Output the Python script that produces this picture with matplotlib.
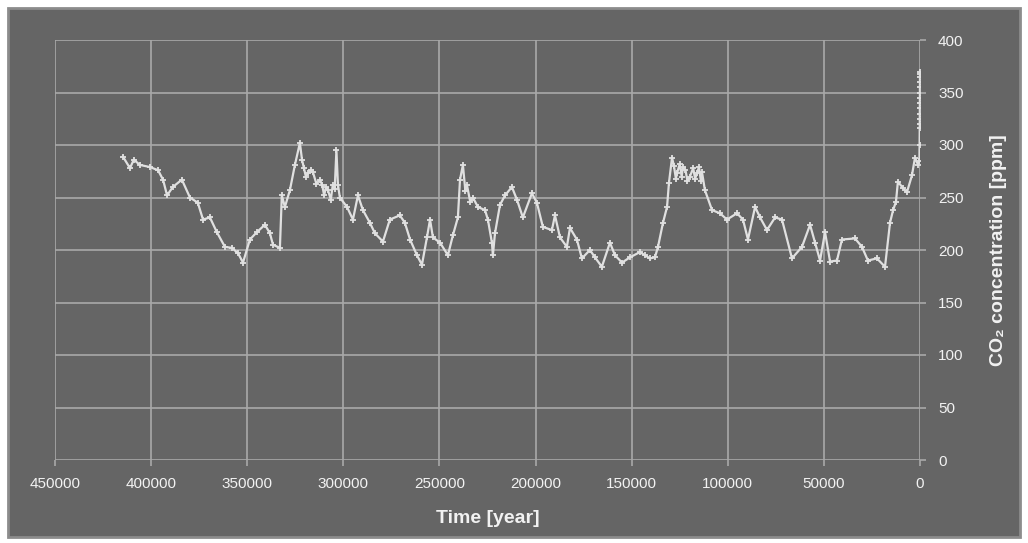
import numpy as np
from matplotlib import pyplot as plt
from matplotlib.patches import Rectangle

plt.rcParams['font.family'] = ['Liberation Sans', 'DejaVu Sans']

# Vostok ice core CO2 (years before present, ppm)
years = [414700, 411000, 409000, 405800, 400600, 396400, 393800, 391700, 388700, 384000,
         379800, 375700, 373000, 369400, 365800, 361600, 358000, 354800, 352200, 348600,
         345000, 340800, 338200, 336600, 333000, 332000, 330400, 327800, 325200, 322600,
         321500, 320500, 319500, 318400, 317000, 315800, 314000, 312200, 311000, 310000,
         309000, 308000, 306500, 305500, 304500, 303600, 302800, 301800, 298100,
         295000, 292400, 289800, 286200, 283600, 279400, 275800, 270600, 268000, 265300,
         261700, 259100, 256500, 254900, 253400, 249700, 245600, 243000, 240400, 239300,
         237800, 236500, 235700, 234000, 232600, 230000, 226300, 224800, 222700, 222200,
         221100, 218500,
         215900, 212300, 209700, 206600, 201900, 199300, 196200, 191500, 189900, 187300,
         183700, 182100, 178500, 175900, 171700, 169100, 165500, 161300, 158700, 155000,
         150900, 145700, 143100, 140500, 137900, 136300, 133700, 131600, 130600, 129000,
         128000, 127000, 126400, 125000, 124000, 123300, 122000, 121000, 119700, 118000,
         117000, 116000, 115000, 114000, 113400, 111900, 108200, 104100, 100400, 95200,
         92100, 89500, 85800, 83200, 79600, 75400, 71800, 66600, 61400, 57200,
         54600, 52000, 49400, 46800, 43200, 40600, 33800, 30200, 27100, 22400,
         18200, 15600, 14000, 12500, 11500, 8800, 6800, 4200, 2600, 1000,
         300, 200, 150, 120, 100, 90, 80, 70, 60, 50, 40, 30, 20, 10, 0]
co2 = [289, 278, 286, 281, 279, 276, 267, 252, 260, 267,
       250, 245, 229, 231, 217, 203, 202, 197, 188, 210,
       217, 224, 216, 205, 202, 252, 241, 257, 281, 302,
       286, 278, 270, 273, 276, 274, 263, 267, 262, 252,
       260, 257, 248, 262, 258, 295, 262, 250, 241,
       229, 252, 238, 226, 216, 208, 229, 233, 226, 210,
       195, 186, 212, 229, 212, 207, 195, 214, 231, 267,
       281, 256, 262, 246, 250, 241, 238, 229, 207, 195,
       216, 243,
       252, 260, 248, 231, 254, 245, 222, 219, 233, 212,
       203, 221, 210, 192, 200, 193, 184, 207, 195, 188,
       193, 198, 195, 192, 193, 203, 226, 241, 264, 288,
       280, 268, 273, 282, 270, 279, 276, 266, 270, 278,
       268, 273, 279, 266, 274, 257, 238, 235, 229, 235,
       229, 210, 241, 231, 219, 231, 229, 192, 203, 224,
       207, 190, 217, 189, 190, 210, 211, 203, 190, 192,
       184, 226, 238, 246, 265, 259, 255, 271, 288, 281,
       285, 300, 316, 320, 325, 330, 335, 340, 345, 350, 355, 360, 365, 368, 370]

x_ticks = np.arange(0, 450001, 50000)
y_ticks = np.arange(0, 401, 50)

bg = '#656565'
grid_col = '#a9a9a9'
txt = '#f2f2f2'

fig = plt.figure(figsize=(10.28, 5.43), dpi=100, facecolor='white')
fig.patches.append(Rectangle((8 / 1028, 6 / 543), 1012 / 1028, 529 / 543,
                             transform=fig.transFigure, facecolor=bg,
                             edgecolor='#8c8c8c', lw=2, zorder=-5))

ax = fig.add_axes([55 / 1028, 83 / 543, 865 / 1028, 420 / 543])
ax.set_facecolor(bg)
ax.plot(years, co2, color='#e0e0e0', lw=1.6, marker='+', ms=5, mew=1.3, zorder=3)

ax.set_xlim(450000, 0)
ax.set_ylim(0, 400)
ax.set_xticks(x_ticks)
ax.set_yticks(y_ticks)
ax.grid(True, color=grid_col, lw=1.2)
for s in ax.spines.values():
    s.set_visible(False)

ax.yaxis.tick_right()
ax.yaxis.set_label_position('right')
ax.tick_params(colors=grid_col, labelcolor=txt, labelsize=11, length=4, width=1.2)
ax.tick_params(axis='x', pad=8)
ax.tick_params(axis='y', pad=9)

ax.set_xlabel('Time [year]', color=txt, fontsize=14, fontweight='bold')
ax.xaxis.set_label_coords(0.5, -0.118)
ax.set_ylabel('CO₂ concentration [ppm]', color=txt, fontsize=14, fontweight='bold')
ax.yaxis.set_label_coords(1.081, 0.5)

fig.savefig('out.png', dpi=100, facecolor='white')
